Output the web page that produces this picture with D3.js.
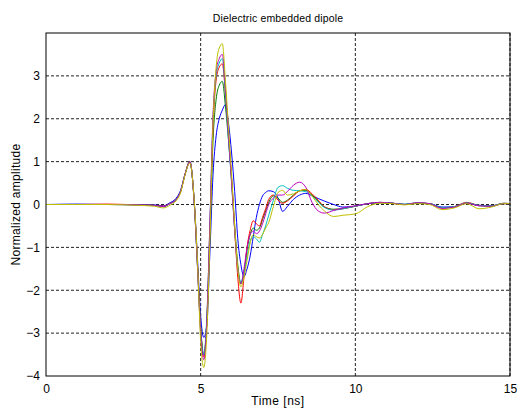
<!DOCTYPE html>
<html>
<head>
<meta charset="utf-8">
<script src="https://cdn.jsdelivr.net/npm/d3@7"></script>
<style>
  body { margin: 0; background: #fff; }
  svg { display: block; font-family: "Liberation Sans", Arial, sans-serif; }
</style>
</head>
<body>
<div id="chart"></div>
<script>
// sample times [ns]
const times = [0, 1, 2, 3, 3.5, 3.8, 4.0, 4.2, 4.35, 4.5, 4.65, 4.8, 4.9,
  5.0, 5.1, 5.2, 5.3, 5.4, 5.5, 5.6, 5.7, 5.8, 5.9,
  6.0, 6.1, 6.2, 6.3, 6.4, 6.5, 6.6, 6.7, 6.8, 6.9,
  7.0, 7.1, 7.2, 7.35, 7.5, 7.65, 7.8, 8.0, 8.2, 8.4, 8.6, 8.8,
  9.0, 9.3, 9.6, 10, 10.4, 10.8, 11.2, 11.6, 12, 12.4, 12.8, 13.2, 13.6, 14, 14.4, 14.8, 15];

// one trace per measurement, same order as the colours below
const blue = [0, 0.01, 0, 0, -0.01, -0.03, 0.04, 0.14, 0.33, 0.72, 0.98, 0.0, -1.3,
  -2.6, -3.1, -2.8, -1.1, 0.7, 1.6, 2.0, 2.2, 2.33, 1.9,
  1.2, 0.3, -0.8, -1.4, -1.68, -1.5, -1.2, -0.75, -0.3, 0.0,
  0.2, 0.28, 0.32, 0.3, 0.15, -0.16, -0.05, 0.12, 0.22, 0.26, 0.2, 0.14,
  0.08, 0.0, -0.06, -0.04, 0.02, 0.04, 0.03, 0.0, 0.03, 0.02, -0.06, -0.05, 0.03, -0.02, -0.03, 0.02, 0.02];
const green = [0, 0, 0, -0.01, -0.02, -0.05, 0.02, 0.11, 0.3, 0.72, 1.0, -0.05, -1.45,
  -2.85, -3.5, -2.75, -0.7, 1.5, 2.45, 2.78, 2.87, 2.3, 1.5,
  0.6, -0.5, -1.4, -1.85, -1.6, -1.05, -0.7, -0.55, -0.6, -0.55,
  -0.35, -0.15, 0.05, 0.2, 0.15, 0.05, 0.1, 0.22, 0.32, 0.33, 0.22, 0.08,
  -0.06, -0.11, -0.09, -0.04, 0.02, 0.04, 0.03, 0.0, 0.03, 0.02, -0.08, -0.06, 0.03, -0.03, -0.04, 0.02, 0.02];
const red = [0, 0, 0.01, -0.01, -0.02, -0.04, 0.02, 0.11, 0.3, 0.72, 1.0, -0.05, -1.45,
  -2.9, -3.55, -2.7, -0.5, 1.8, 2.9, 3.2, 3.28, 2.6, 1.6,
  0.6, -0.6, -1.7, -2.3, -1.7, -1.0, -0.6, -0.38, -0.45, -0.5,
  -0.3, -0.1, 0.12, 0.22, 0.1, 0.03, 0.08, 0.2, 0.32, 0.35, 0.25, 0.1,
  -0.05, -0.12, -0.1, -0.04, 0.02, 0.05, 0.03, 0.0, 0.04, 0.02, -0.08, -0.05, 0.05, -0.02, -0.03, 0.03, 0.02];
const cyan = [0, 0, 0, -0.01, -0.02, -0.05, 0.02, 0.11, 0.3, 0.72, 1.0, -0.05, -1.5,
  -2.95, -3.5, -2.6, -0.4, 2.0, 3.0, 3.3, 3.4, 2.6, 1.5,
  0.5, -0.6, -1.5, -1.8, -1.6, -1.2, -0.85, -0.75, -0.8, -0.88,
  -0.7, -0.5, -0.25, 0.1, 0.4, 0.44, 0.38, 0.33, 0.32, 0.3, 0.2, 0.06,
  -0.07, -0.13, -0.1, -0.04, 0.02, 0.05, 0.03, 0.01, 0.04, 0.02, -0.07, -0.05, 0.04, -0.02, -0.03, 0.03, 0.02];
const magenta = [0, 0, 0, -0.01, -0.02, -0.05, 0.02, 0.11, 0.3, 0.72, 1.0, -0.05, -1.5,
  -3.0, -3.62, -2.7, -0.4, 2.1, 3.1, 3.4, 3.5, 2.7, 1.6,
  0.5, -0.6, -1.5, -1.85, -1.5, -1.0, -0.7, -0.62, -0.68, -0.62,
  -0.45, -0.22, 0.0, 0.15, 0.22, 0.22, 0.3, 0.45, 0.52, 0.4, 0.05, -0.15,
  -0.2, -0.14, -0.08, -0.03, 0.02, 0.05, 0.03, 0.0, 0.04, 0.02, -0.09, -0.06, 0.03, -0.03, -0.04, 0.02, 0.02];
const yellow = [0, 0, 0, -0.02, -0.04, -0.08, -0.02, 0.08, 0.27, 0.7, 0.97, 0.0, -1.4,
  -3.2, -3.8, -3.0, -0.8, 1.9, 3.2, 3.65, 3.75, 2.9, 1.8,
  0.7, -0.5, -1.5, -1.92, -1.7, -1.3, -0.9, -0.7, -0.75, -0.78,
  -0.7, -0.55, -0.42, -0.05, 0.28, 0.33, 0.22, 0.25, 0.32, 0.35, 0.2, 0.0,
  -0.15, -0.28, -0.25, -0.22, -0.05, 0.03, 0.02, -0.01, 0.02, 0.0, -0.12, -0.08, 0.02, -0.1, -0.06, 0.02, 0.02];

const traces = [blue, green, red, cyan, magenta, yellow];
const colors = ["#0000ff", "#008000", "#ff0000", "#00bfbf", "#bf00bf", "#bfbf00"];

const xTicks = [0, 5, 10, 15];
const yTicks = [-4, -3, -2, -1, 0, 1, 2, 3];

const width = 517, height = 409;
const margin = { top: 33, right: 7, bottom: 33, left: 46 };
const w = width - margin.left - margin.right;
const h = height - margin.top - margin.bottom;

const svg = d3.select("#chart").append("svg")
  .attr("width", width)
  .attr("height", height);

const g = svg.append("g")
  .attr("transform", `translate(${margin.left},${margin.top})`);

const x = d3.scaleLinear().domain([0, 15]).range([0, w]);
const y = d3.scaleLinear().domain([-4, 4]).range([h, 0]);

// dashed grid
g.append("g")
  .selectAll("line")
  .data(yTicks.filter(d => d > -4))
  .join("line")
  .attr("x1", 0).attr("x2", w)
  .attr("y1", d => y(d)).attr("y2", d => y(d))
  .attr("stroke", "#222")
  .attr("stroke-dasharray", "3,2");

g.append("g")
  .selectAll("line")
  .data(xTicks.filter(d => d > 0))
  .join("line")
  .attr("x1", d => x(d)).attr("x2", d => x(d))
  .attr("y1", 0).attr("y2", h)
  .attr("stroke", "#222")
  .attr("stroke-dasharray", "3,2");

// axes (labels only)
const xAxis = g.append("g")
  .attr("transform", `translate(0,${h})`)
  .call(d3.axisBottom(x).tickValues(xTicks).tickSize(0).tickPadding(8));
const yAxis = g.append("g")
  .call(d3.axisLeft(y).tickValues(yTicks).tickSize(0).tickPadding(6));
[xAxis, yAxis].forEach(a => {
  a.select(".domain").remove();
  a.selectAll("text").style("font-size", "12px").attr("fill", "#000");
});

// traces
const line = d3.line()
  .x((d, i) => x(times[i]))
  .y(d => y(d))
  .curve(d3.curveMonotoneX);

g.selectAll(".trace")
  .data(traces)
  .join("path")
  .attr("class", "trace")
  .attr("fill", "none")
  .attr("stroke", (d, i) => colors[i])
  .attr("stroke-width", 1)
  .attr("d", line);

// frame
g.append("rect")
  .attr("width", w).attr("height", h)
  .attr("fill", "none")
  .attr("stroke", "#000")
  .attr("stroke-width", 1);

svg.append("text")
  .attr("x", margin.left + w / 2)
  .attr("y", 22)
  .attr("text-anchor", "middle")
  .style("font-size", "10.5px")
  .style("letter-spacing", "0.15px")
  .text("Dielectric embedded dipole");

svg.append("text")
  .attr("x", margin.left + w / 2)
  .attr("y", 405)
  .attr("text-anchor", "middle")
  .style("font-size", "12px")
  .style("letter-spacing", "0.5px")
  .text("Time [ns]");

svg.append("text")
  .attr("transform", `translate(20,${margin.top + h / 2}) rotate(-90)`)
  .attr("text-anchor", "middle")
  .style("font-size", "12px")
  .style("letter-spacing", "0.3px")
  .text("Normalized amplitude");
</script>
</body>
</html>
